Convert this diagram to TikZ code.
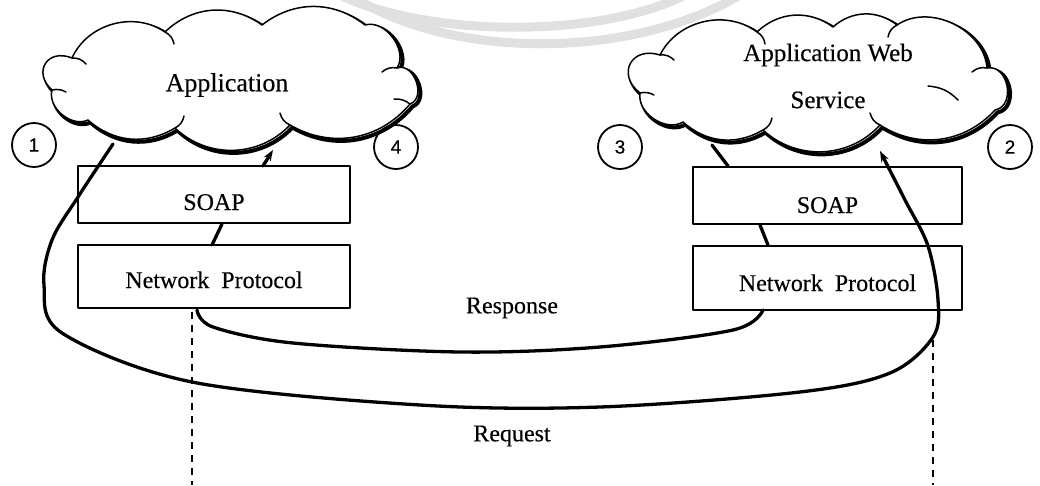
\documentclass[tikz,border=0pt]{standalone}
\usepackage{fontspec}
\setmainfont{Liberation Serif}[FakeBold=0.3]
\newfontfamily\numfont{Liberation Sans}[FakeBold=0.3]
\usetikzlibrary{arrows.meta}
\newcommand\cloudLpath{(52,90) to[bend left=80, looseness=1.8] (72,58) to[bend left=50] (165,32) to[bend left=40] (262,25) to[bend left=38] (365,25) to[bend left=70] (397,68) to[bend left=90, looseness=1.2] (410,104) to[bend left=40] (290,125) to[bend left=45] (175,128) to[bend left=36] (88,120) to[bend left=65] (52,90) -- cycle}
\newcommand\cloudRpath{(640,93) to[bend left=80, looseness=1.8] (660,55) to[bend left=50] (757,32) to[bend left=40] (833,27) to[bend left=40] (897,25) to[bend left=60] (987,68) to[bend left=90, looseness=1.3] (995,110) to[bend left=40] (880,125) to[bend left=45] (763,130) to[bend left=36] (683,122) to[bend left=65] (640,93) -- cycle}
\begin{document}
\begin{tikzpicture}[x=1pt,y=-1pt, line join=round,
  box/.style={draw, line width=1.7pt, rectangle, inner sep=0pt, font=\fontsize{24}{28}\selectfont},
  num/.style={draw, circle, line width=1.8pt, minimum size=44pt, inner sep=0pt, font=\numfont\fontsize{19}{20}\selectfont},
  lbl/.style={font=\fontsize{24}{28}\selectfont, inner sep=0pt},
  flow/.style={line width=3.3pt, line cap=round},
  vdash/.style={line width=2pt, dash pattern=on 7pt off 6pt},
  wm/.style={line width=9pt, color=black!12},
  shadowline/.style={draw, line width=4pt},
  cloudline/.style={fill=white, draw, line width=1.5pt},
  hook/.style={line width=1.5pt, line cap=round},
  tip/.style={-{Stealth[length=11pt,width=8pt]}}
]
\fill[white] (0,0) rectangle (1040,485);
\useasboundingbox (0,0) rectangle (1040,485);
% watermark
\draw[wm] (340,-5) .. controls (430,38) and (600,38) .. (685,-5);
\draw[wm] (350,-5) .. controls (450,60) and (630,60) .. (740,-5);
% clouds
\path[shadowline, shift={(2.5,2.5)}] \cloudLpath;
\path[cloudline] \cloudLpath;
\path[shadowline, shift={(2.5,2.5)}] \cloudRpath;
\path[cloudline] \cloudRpath;
% inner hooks of the clouds
\draw[hook] (72,58) to[bend left=25] (86,64);
\draw[hook] (165,32) to[bend left=25] (174,44);
\draw[hook] (397,68) to[bend right=25] (382,72);
\draw[hook] (410,104) to[bend right=20] (394,99);
\draw[hook] (290,125) to[bend left=25] (280,113);
\draw[hook] (175,128) to[bend right=25] (184,116);
\draw[hook] (52,90) to[bend left=20] (66,92);
\draw[hook] (660,55) to[bend left=25] (674,60);
\draw[hook] (757,32) to[bend left=25] (765,44);
\draw[hook] (897,25) to[bend right=25] (888,37);
\draw[hook] (987,68) to[bend right=25] (972,72);
\draw[hook] (928,86) to[bend left=20] (958,100);
\draw[hook] (880,125) to[bend left=25] (870,113);
\draw[hook] (763,130) to[bend right=25] (772,118);
\draw[hook] (640,93) to[bend left=20] (654,95);
% text in clouds
\node[lbl, font=\fontsize{26}{28}\selectfont] (appL) at (227,85) {Application};
\node[lbl, align=center, font=\fontsize{25}{47}\selectfont] (appR) at (828,76) {Application Web\\Service};
% circles
\node[num] (c1) at (34,145) {1};
\node[num] (c4) at (396,147) {4};
\node[num] (c3) at (620,147) {3};
\node[num] (c2) at (1010,147) {2};
% boxes
\node[box, minimum width=272pt, minimum height=57pt, text height=31pt, text depth=0pt] (soapL) at (214,194.5) {SOAP};
\node[box, minimum width=272pt, minimum height=63pt, text height=23pt, text depth=0pt] (netL) at (214,276.5) {Network\hspace{12pt}Protocol};
\node[box, minimum width=269pt, minimum height=57pt, text height=35pt, text depth=0pt] (soapR) at (827.5,195.5) {SOAP};
\node[box, minimum width=269pt, minimum height=64pt, text height=26pt, text depth=0pt] (netR) at (827.5,278) {Network\hspace{12pt}Protocol};
% labels
\node[lbl] (resp) at (512,308) {Response};
\node[lbl] (req) at (512,436) {Request};
% coordinates
\coordinate (r0) at (113,144);
\coordinate (r1) at (78,197);
\coordinate (r2) at (52,240);
\coordinate (r3) at (44,285);
\coordinate (r4) at (62,333);
\coordinate (r5) at (192,382);
\coordinate (r6) at (420,405);
\coordinate (r7) at (600,407);
\coordinate (r8) at (800,392);
\coordinate (r9) at (890,373);
\coordinate (r10) at (933,337);
\coordinate (r11) at (938,300);
\coordinate (r12) at (928,246);
\coordinate (r13) at (905,200);
\coordinate (r14) at (880,151);
\coordinate (s0) at (763,310);
\coordinate (s1) at (733,330);
\coordinate (s2) at (600,347);
\coordinate (s3) at (460,352);
\coordinate (s4) at (293,343);
\coordinate (s5) at (213,327);
\coordinate (s6) at (197,310);
\coordinate (a1) at (712,145);
\coordinate (a2) at (728,166);
\coordinate (b1) at (760,225);
\coordinate (b2) at (768,245);
\coordinate (d1) at (222,224);
\coordinate (d2) at (212,245);
\coordinate (e1) at (263,166);
\coordinate (e2) at (273,150);
\coordinate (dl1) at (192,312);
\coordinate (dl2) at (192,485);
\coordinate (dr1) at (933,340);
\coordinate (dr2) at (933,485);
% connectors
\draw[flow, tip] plot[smooth, tension=0.55] coordinates {(r0) (r1) (r2) (r3) (r4) (r5) (r6) (r7) (r8) (r9) (r10) (r11) (r12) (r13) (r14)};
\draw[flow] plot[smooth, tension=0.55] coordinates {(s0) (s1) (s2) (s3) (s4) (s5) (s6)};
\draw[flow] (a1) -- (a2);
\draw[flow] (b1) -- (b2);
\draw[flow] (d1) -- (d2);
\draw[flow, tip] (e1) -- (e2);
\draw[vdash] (dl1) -- (dl2);
\draw[vdash] (dr1) -- (dr2);
\end{tikzpicture}
\end{document}
